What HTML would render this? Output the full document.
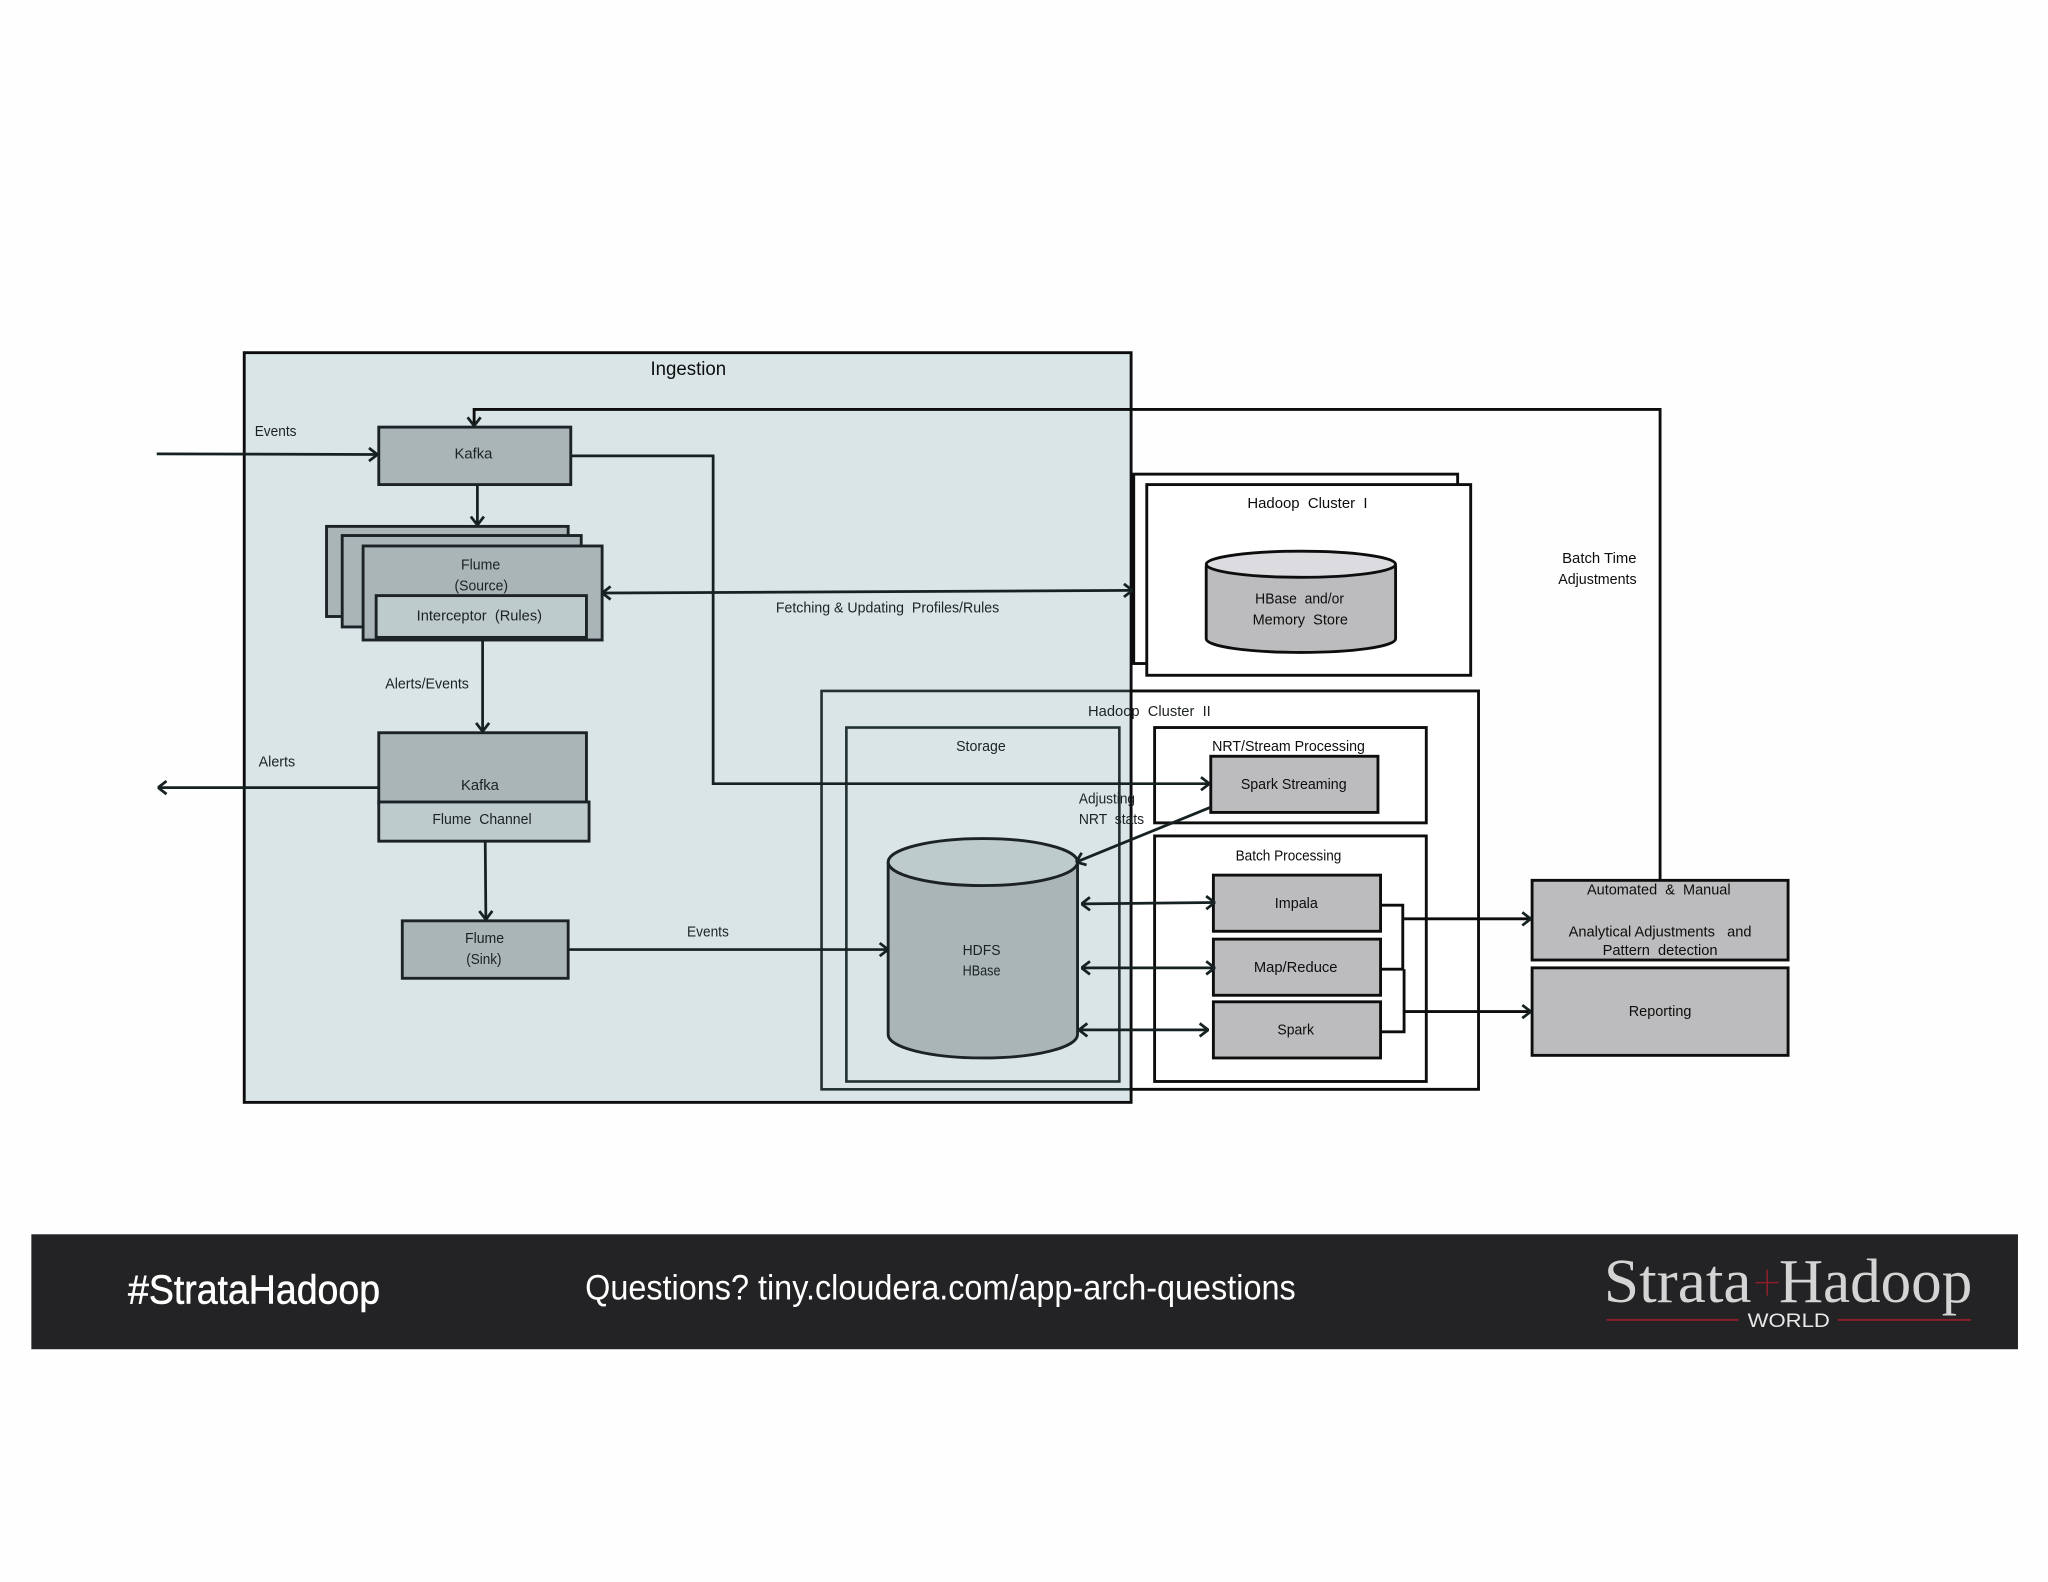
<!DOCTYPE html>
<html><head><meta charset="utf-8"><style>
html,body{margin:0;padding:0;background:#fefefe}
svg{display:block}
text{font-family:"Liberation Sans",sans-serif;font-size:11.5px;fill:#1c2224}
.r{stroke:#1a2427;stroke-width:2.2}
.k{fill:#aab5b8}.c{fill:#bdcbcd}.g{fill:#bcbcbe;stroke:#111;stroke-width:2.2}
.w{fill:#fff;stroke:#0d0d0d;stroke-width:2.2}.n{fill:none;stroke:#223033;stroke-width:2}
.l{fill:none;stroke:#172022;stroke-width:2.1}.b{fill:none;stroke:#0d0d0d;stroke-width:2.2}
</style></head><body>
<svg width="2048" height="1582" viewBox="0 0 1568 1211.2" xmlns="http://www.w3.org/2000/svg">
<defs>
<filter id="s" x="-2%" y="-2%" width="104%" height="104%"><feGaussianBlur stdDeviation="0.25"/></filter>
<marker id="a" viewBox="0 0 10 12" refX="9.5" refY="6" markerWidth="10" markerHeight="12" markerUnits="userSpaceOnUse" orient="auto-start-reverse"><path d="M3 1L9.500 6L3 11" fill="none" stroke="#172022" stroke-width="2.1"/></marker>
</defs>
<g filter="url(#s)">
<rect x="868" y="363" width="248" height="145" class="w"/>
<rect x="878" y="371" width="248" height="146" class="w"/>
<rect x="629" y="529" width="503" height="305" class="w"/>
<rect x="884" y="557" width="208" height="73" class="w"/>
<rect x="884" y="640" width="208" height="188" class="w"/>
<rect x="187" y="270" width="679" height="574" fill="#dae5e7"/>
<rect x="629" y="529" width="237" height="305" class="n"/>
<rect x="648" y="557" width="209" height="271" class="n"/>
<path d="M1271 674V313.500H363V326" class="b" marker-end="url(#a)"/>
<rect x="187" y="270" width="679" height="574" class="b"/>
<rect x="290" y="327" width="147" height="44" class="k r"/>
<rect x="250" y="403" width="185" height="69" class="k r"/>
<rect x="262" y="410" width="183" height="70" class="k r"/>
<rect x="278" y="418" width="183" height="72" class="k r"/>
<rect x="288" y="456" width="161" height="32" class="c r"/>
<rect x="290" y="561" width="159" height="54" class="k r"/>
<rect x="290" y="614" width="161" height="30" class="c r"/>
<rect x="308" y="705" width="127" height="44" class="k r"/>
<path d="M680 660V792C680 802 712 810 752.500 810S825 802 825 792V660" class="k r"/>
<ellipse cx="752.500" cy="660" rx="72.500" ry="18" class="c r"/>
<path d="M923.500 433V489C923.500 495 956 499.500 996 499.500S1068.500 495 1068.500 489V433" fill="#bcbcbe" stroke="#0d0d0d" stroke-width="2.2"/>
<ellipse cx="996" cy="432" rx="72.500" ry="10" fill="#dcdce0" stroke="#0d0d0d" stroke-width="2.2"/>
<rect x="927" y="579" width="128" height="43" class="g"/>
<rect x="929" y="670" width="128" height="43" class="g"/>
<rect x="929" y="719" width="128" height="43" class="g"/>
<rect x="929" y="767" width="128" height="43" class="g"/>
<rect x="1173" y="674" width="196" height="61" class="g"/>
<rect x="1173" y="741" width="196" height="67" class="g"/>
<path d="M120 347.500L289 348" class="l" marker-end="url(#a)"/>
<path d="M365.500 371V402" class="l" marker-end="url(#a)"/>
<path d="M437 349H546V600H926" class="l" marker-end="url(#a)"/>
<path d="M461 454L867 452" class="l" marker-start="url(#a)" marker-end="url(#a)"/>
<path d="M369.500 490V560" class="l" marker-end="url(#a)"/>
<path d="M290 603H121" class="l" marker-end="url(#a)"/>
<path d="M371.500 644L372 704" class="l" marker-end="url(#a)"/>
<path d="M435 727H680" class="l" marker-end="url(#a)"/>
<path d="M927 618L824 660" class="l" marker-end="url(#a)"/>
<path d="M828 692L930 691" class="l" marker-start="url(#a)" marker-end="url(#a)"/>
<path d="M828 741H930" class="l" marker-start="url(#a)" marker-end="url(#a)"/>
<path d="M826 788.500H925" class="l" marker-start="url(#a)" marker-end="url(#a)"/>
<path d="M1057 693H1074V742H1058" class="b"/>
<path d="M1057 790H1075V742" class="b"/>
<path d="M1075 703.500H1172" class="b" marker-end="url(#a)"/>
<path d="M1075 774.500H1172" class="b" marker-end="url(#a)"/>
</g>
<text x="498" y="287" textLength="58" lengthAdjust="spacingAndGlyphs" style="font-size:15px;fill:#0d0d0d">Ingestion</text>
<text x="195" y="334" textLength="32" lengthAdjust="spacingAndGlyphs">Events</text>
<text x="348" y="351" textLength="29" lengthAdjust="spacingAndGlyphs">Kafka</text>
<text x="353" y="436" textLength="30" lengthAdjust="spacingAndGlyphs">Flume</text>
<text x="348" y="452" textLength="41" lengthAdjust="spacingAndGlyphs">(Source)</text>
<text x="319" y="475" textLength="96" lengthAdjust="spacingAndGlyphs" xml:space="preserve">Interceptor  (Rules)</text>
<text x="295" y="527" textLength="64" lengthAdjust="spacingAndGlyphs">Alerts/Events</text>
<text x="198" y="587" textLength="28" lengthAdjust="spacingAndGlyphs">Alerts</text>
<text x="353" y="605" textLength="29" lengthAdjust="spacingAndGlyphs">Kafka</text>
<text x="331" y="631" textLength="76" lengthAdjust="spacingAndGlyphs" xml:space="preserve">Flume  Channel</text>
<text x="356" y="722" textLength="30" lengthAdjust="spacingAndGlyphs">Flume</text>
<text x="357" y="738" textLength="27" lengthAdjust="spacingAndGlyphs">(Sink)</text>
<text x="526" y="717" textLength="32" lengthAdjust="spacingAndGlyphs">Events</text>
<text x="594" y="469" textLength="171" lengthAdjust="spacingAndGlyphs" xml:space="preserve">Fetching &amp; Updating  Profiles/Rules</text>
<text x="833" y="548" textLength="94" lengthAdjust="spacingAndGlyphs" xml:space="preserve">Hadoop  Cluster  II</text>
<text x="732" y="575" textLength="38" lengthAdjust="spacingAndGlyphs">Storage</text>
<text x="826" y="615" textLength="43" lengthAdjust="spacingAndGlyphs">Adjusting</text>
<text x="826" y="631" textLength="50" lengthAdjust="spacingAndGlyphs" xml:space="preserve">NRT  stats</text>
<text x="737" y="731" textLength="29" lengthAdjust="spacingAndGlyphs">HDFS</text>
<text x="737" y="747" textLength="29" lengthAdjust="spacingAndGlyphs">HBase</text>
<text x="955" y="389" textLength="92" lengthAdjust="spacingAndGlyphs" xml:space="preserve" style="fill:#0d0d0d">Hadoop  Cluster  I</text>
<text x="961" y="462" textLength="68" lengthAdjust="spacingAndGlyphs" xml:space="preserve" style="fill:#0d0d0d">HBase  and/or</text>
<text x="959" y="478" textLength="73" lengthAdjust="spacingAndGlyphs" xml:space="preserve" style="fill:#0d0d0d">Memory  Store</text>
<text x="1196" y="431" textLength="57" lengthAdjust="spacingAndGlyphs" style="fill:#0d0d0d">Batch Time</text>
<text x="1193" y="447" textLength="60" lengthAdjust="spacingAndGlyphs" style="fill:#0d0d0d">Adjustments</text>
<text x="928" y="575" textLength="117" lengthAdjust="spacingAndGlyphs" style="fill:#0d0d0d">NRT/Stream Processing</text>
<text x="950" y="604" textLength="81" lengthAdjust="spacingAndGlyphs" style="fill:#0d0d0d">Spark Streaming</text>
<text x="946" y="659" textLength="81" lengthAdjust="spacingAndGlyphs" style="fill:#0d0d0d">Batch Processing</text>
<text x="976" y="695" textLength="33" lengthAdjust="spacingAndGlyphs" style="fill:#0d0d0d">Impala</text>
<text x="960" y="744" textLength="64" lengthAdjust="spacingAndGlyphs" style="fill:#0d0d0d">Map/Reduce</text>
<text x="978" y="792" textLength="28" lengthAdjust="spacingAndGlyphs" style="fill:#0d0d0d">Spark</text>
<text x="1215" y="685" textLength="110" lengthAdjust="spacingAndGlyphs" xml:space="preserve" style="fill:#0d0d0d">Automated  &amp;  Manual</text>
<text x="1201" y="717" textLength="140" lengthAdjust="spacingAndGlyphs" xml:space="preserve" style="fill:#0d0d0d">Analytical Adjustments   and</text>
<text x="1227" y="731" textLength="88" lengthAdjust="spacingAndGlyphs" xml:space="preserve" style="fill:#0d0d0d">Pattern  detection</text>
<text x="1247" y="778" textLength="48" lengthAdjust="spacingAndGlyphs" style="fill:#0d0d0d">Reporting</text>
<rect x="24" y="945" width="1521" height="88" fill="#232224"/>
<text x="98" y="998" textLength="193" lengthAdjust="spacingAndGlyphs" style="font-size:31px;fill:#fff;stroke:#fff;stroke-width:.4">#StrataHadoop</text>
<text x="448" y="995" textLength="544" lengthAdjust="spacingAndGlyphs" style="font-size:27px;fill:#fff">Questions? tiny.cloudera.com/app-arch-questions</text>
<text x="1228" y="997" textLength="113" lengthAdjust="spacingAndGlyphs" style="font-family:'Liberation Serif',serif;font-size:48px;fill:#d4d4d4">Strata</text>
<text x="1362" y="997" textLength="148" lengthAdjust="spacingAndGlyphs" style="font-family:'Liberation Serif',serif;font-size:48px;fill:#d4d4d4">Hadoop</text>
<path d="M1344 982H1362M1353 972V992" stroke="#8d1f2c" stroke-width="1.2"/>
<path d="M1230 1010.500H1331M1407 1010.500H1509" stroke="#8d1f2c" stroke-width="1.5"/>
<text x="1338" y="1016" textLength="63" lengthAdjust="spacingAndGlyphs" style="font-size:15px;fill:#e8e8e8">WORLD</text>
</svg>
</body></html>
